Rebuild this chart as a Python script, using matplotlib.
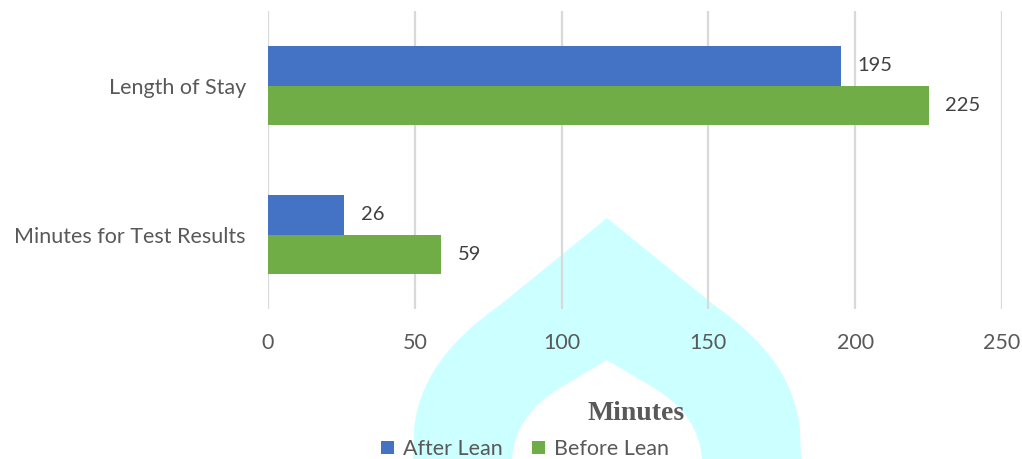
import matplotlib.pyplot as plt
from matplotlib.patches import PathPatch
from matplotlib.path import Path

categories = ["Minutes for Test Results", "Length of Stay"]
after_lean = [26, 195]
before_lean = [59, 225]
series_names = ["After Lean", "Before Lean"]
xticks = [0, 50, 100, 150, 200, 250]

BLUE = "#4472C4"
GREEN = "#70AD47"
GRAY = "#595959"

plt.rcParams["font.family"] = ["Lato", "DejaVu Sans"]

W, H = 1022, 459
fig = plt.figure(figsize=(W / 100, H / 100), dpi=100)

# faint watermark arch behind the chart (figure pixel coords)
M, L, C = Path.MOVETO, Path.LINETO, Path.CURVE3
shape = [
    ((413, 459), M), ((414, 430), L), ((420, 360), C), ((500, 305), C),
    ((607, 218), L), ((714, 305), L), ((794, 360), C), ((800, 430), C),
    ((801, 459), L), ((702, 459), L), ((699, 415), C), ((654, 388), C),
    ((607, 360), L), ((560, 388), L), ((515, 415), C), ((512, 459), C),
    ((413, 459), L),
]
verts = [(x / W, 1 - y / H) for (x, y), _ in shape]
codes = [c for _, c in shape]
fig.patches.append(PathPatch(Path(verts, codes), transform=fig.transFigure,
                             facecolor="#ccffff", edgecolor="none", zorder=-5))

ax = fig.add_axes([268 / W, 1 - 309 / H, (1002 - 268) / W, (309 - 11) / H])
ax.patch.set_alpha(0)

h = 0.262
ypos = list(range(len(categories)))
b1 = ax.barh([y + h / 2 for y in ypos], after_lean, height=h, color=BLUE,
             label=series_names[0], zorder=3)
b2 = ax.barh([y - h / 2 for y in ypos], before_lean, height=h, color=GREEN,
             label=series_names[1], zorder=3)
for bars in (b1, b2):
    ax.bar_label(bars, padding=12, fontsize=14.5, color="#404040")

ax.set_xlim(0, 250)
ax.set_ylim(-0.5, 1.5)
ax.set_xticks(xticks)
ax.set_yticks(ypos)
ax.set_yticklabels(categories)
ax.tick_params(axis="both", length=0, labelsize=15.5, colors=GRAY)
ax.tick_params(axis="y", pad=16)
ax.tick_params(axis="x", pad=17)
ax.grid(axis="x", color="#d9d9d9", linewidth=1.6, zorder=0)
for s in ax.spines.values():
    s.set_visible(False)

fig.text(636 / W, 1 - 413 / H, "Minutes", family="Liberation Serif",
         fontweight="bold", fontsize=20, color=GRAY, ha="center", va="center")
fig.legend(loc="center", bbox_to_anchor=(525 / W, 1 - 449 / H), ncol=2,
           frameon=False, fontsize=15.5, handlelength=0.6, handleheight=0.6,
           handletextpad=0.4, columnspacing=1.4, labelcolor=GRAY)

fig.savefig("out.png", dpi=100)
